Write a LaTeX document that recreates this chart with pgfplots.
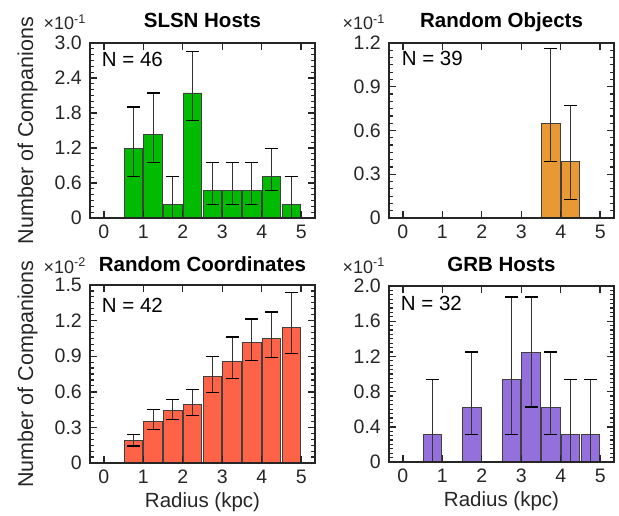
\documentclass[border=0pt]{standalone}
\usepackage{pgfplots}
\pgfplotsset{compat=1.18}
\usepackage{fontspec}
\setmainfont{Liberation Sans}
\definecolor{cgreen}{RGB}{0,187,0}
\definecolor{corange}{RGB}{232,153,52}
\definecolor{cred}{RGB}{255,99,71}
\definecolor{cpurple}{RGB}{147,112,219}
\definecolor{axgray}{RGB}{38,38,38}
\newcommand{\tkfont}{\fontsize{19.5}{21}\selectfont}
\newcommand{\lbfont}{\fontsize{20.5}{22}\selectfont}
\newcommand{\ylfont}{\fontsize{21.5}{23}\selectfont}
\newcommand{\mlfont}{\fontsize{18}{19}\selectfont}
\pgfplotsset{
  panel/.style={
    scale only axis, width=225pt, height=175pt,
    xmin=-0.35, xmax=5.35, ymin=0,
    clip=false, axis on top,
    axis line style={draw=axgray, line width=1.4pt},
    major tick style={draw=axgray, line width=1.4pt},
    minor tick style={draw=axgray, line width=1.2pt},
    major tick length=7pt, minor tick length=4pt,
    tick align=inside,
    xtick={0,...,5},
    xticklabels={0,1,2,3,4,5},
    minor y tick num=5,
    xticklabel style={font=\tkfont, text=axgray, anchor=base, yshift=-20pt, inner sep=0pt},
    yticklabel style={font=\tkfont, text=axgray, anchor=east, xshift=-8pt, inner sep=0pt},
    title style={at={(axis description cs:0.5,1)}, anchor=base, yshift=9pt, font=\bfseries\lbfont, text=black},
    every axis y label/.style={at={(axis description cs:-0.253,0.5)}, rotate=90, anchor=base, font=\ylfont, text=axgray},
    every axis x label/.style={at={(axis description cs:0.5,0)}, anchor=base, yshift=-44pt, font=\lbfont, text=axgray},
  },
  histbar/.style={ybar, bar width=0.47, bar shift=0pt, draw=black!75, line width=0.9pt, fill=#1},
  ebar/.style={draw=none, mark=none,
    error bars/y dir=both, error bars/y explicit,
    error bars/error bar style={line width=0.9pt, draw=black!80},
    error bars/error mark options={rotate=90, draw=black, line width=1.2pt, mark size=6.5pt}},
}
% frame and ticks in data coordinates:
% #1 = ymax, #2 = minor step, #3 = major step, #4 = x-tick length (data y), #5 = ymax - #4
\newcommand{\frameticks}[5]{%
  \pgfplotsinvokeforeach{0,#2,...,#1}{%
    \draw[axgray, line width=1.2pt] (axis cs:-0.35,##1) -- (axis cs:-0.2487,##1);
    \draw[axgray, line width=1.2pt] (axis cs:5.35,##1) -- (axis cs:5.2487,##1);}
  \pgfplotsinvokeforeach{0,#3,...,#1}{%
    \draw[axgray, line width=1.4pt] (axis cs:-0.35,##1) -- (axis cs:-0.1727,##1);
    \draw[axgray, line width=1.4pt] (axis cs:5.35,##1) -- (axis cs:5.1727,##1);}
  \pgfplotsinvokeforeach{0,...,5}{%
    \draw[axgray, line width=1.4pt] (axis cs:##1,0) -- (axis cs:##1,#4);
    \draw[axgray, line width=1.4pt] (axis cs:##1,#1) -- (axis cs:##1,#5);}
  \draw[axgray, line width=1.4pt, line join=miter] (axis cs:-0.35,0) -- (axis cs:5.35,0) -- (axis cs:5.35,#1) -- (axis cs:-0.35,#1) -- cycle;
}
\begin{document}
\begin{tikzpicture}
\path (0,0) rectangle (619pt,515pt);

% Top-left: SLSN Hosts
\begin{axis}[panel, at={(90pt,297pt)}, anchor=south west,
  ymax=3.0, ytick={0,0.6,1.2,1.8,2.4,3.0}, yticklabels={0,0.6,1.2,1.8,2.4,3.0},
  title={SLSN Hosts}, ylabel={Number of Companions}]
\addplot[histbar=cgreen] coordinates {(0.25,0) (0.75,1.190) (1.25,1.429) (1.75,0.238) (2.25,2.143) (2.75,0.476) (3.25,0.476) (3.75,0.476) (4.25,0.714) (4.75,0.238)};
\addplot[ebar] coordinates {
 (0.75,1.190) += (0,0.714) -= (0,0.476)
 (1.25,1.429) += (0,0.714) -= (0,0.476)
 (1.75,0.238) += (0,0.476) -= (0,0.238)
 (2.25,2.143) += (0,0.714) -= (0,0.476)
 (2.75,0.476) += (0,0.476) -= (0,0.238)
 (3.25,0.476) += (0,0.476) -= (0,0.238)
 (3.75,0.476) += (0,0.476) -= (0,0.238)
 (4.25,0.714) += (0,0.476) -= (0,0.238)
 (4.75,0.238) += (0,0.476) -= (0,0.238)};
\frameticks{3.0}{0.1}{0.6}{0.12}{2.88}
\node[anchor=base west, inner sep=0pt, font=\lbfont] at (axis description cs:0.052,0.865) {N = 46};
\node[anchor=base west, inner sep=0pt, font=\mlfont, text=axgray, yshift=13pt] at (axis description cs:-0.207,1) {×10\textsuperscript{-1}};
\end{axis}

% Top-right: Random Objects
\begin{axis}[panel, at={(389pt,297pt)}, anchor=south west,
  ymax=1.2, ytick={0,0.3,0.6,0.9,1.2}, yticklabels={0,0.3,0.6,0.9,1.2},
  title={Random Objects}]
\addplot[histbar=corange] coordinates {(0.25,0) (0.75,0) (1.25,0) (1.75,0) (2.25,0) (2.75,0) (3.25,0) (3.75,0.645) (4.25,0.387) (4.75,0)};
\addplot[ebar] coordinates {
 (3.75,0.645) += (0,0.516) -= (0,0.258)
 (4.25,0.387) += (0,0.387) -= (0,0.258)};
\frameticks{1.2}{0.05}{0.3}{0.048}{1.152}
\node[anchor=base west, inner sep=0pt, font=\lbfont] at (axis description cs:0.056,0.87) {N = 39};
\node[anchor=base west, inner sep=0pt, font=\mlfont, text=axgray, yshift=13pt] at (axis description cs:-0.207,1) {×10\textsuperscript{-1}};
\end{axis}

% Bottom-left: Random Coordinates
\begin{axis}[panel, at={(90pt,52pt)}, anchor=south west, height=178pt,
  ymax=1.5, ytick={0,0.3,0.6,0.9,1.2,1.5}, yticklabels={0,0.3,0.6,0.9,1.2,1.5},
  title={Random Coordinates}, title style={yshift=-1pt},
  ylabel={Number of Companions}, xlabel={Radius (kpc)}]
\addplot[histbar=cred] coordinates {(0.25,0) (0.75,0.186) (1.25,0.352) (1.75,0.442) (2.25,0.493) (2.75,0.726) (3.25,0.852) (3.75,1.016) (4.25,1.052) (4.75,1.143)};
\addplot[ebar] coordinates {
 (0.75,0.186) += (0,0.054) -= (0,0.043)
 (1.25,0.352) += (0,0.098) -= (0,0.073)
 (1.75,0.442) += (0,0.090) -= (0,0.073)
 (2.25,0.493) += (0,0.129) -= (0,0.096)
 (2.75,0.726) += (0,0.172) -= (0,0.135)
 (3.25,0.852) += (0,0.209) -= (0,0.143)
 (3.75,1.016) += (0,0.197) -= (0,0.152)
 (4.25,1.052) += (0,0.220) -= (0,0.160)
 (4.75,1.143) += (0,0.295) -= (0,0.220)};
\frameticks{1.5}{0.05}{0.3}{0.059}{1.441}
\node[anchor=base west, inner sep=0pt, font=\lbfont] at (axis description cs:0.052,0.843) {N = 42};
\node[anchor=base west, inner sep=0pt, font=\mlfont, text=axgray, yshift=12pt] at (axis description cs:-0.207,1) {×10\textsuperscript{-2}};
\end{axis}

% Bottom-right: GRB Hosts
\begin{axis}[panel, at={(389pt,53pt)}, anchor=south west, height=176pt,
  ymax=2.0, ytick={0,0.4,0.8,1.2,1.6,2.0}, yticklabels={0,0.4,0.8,1.2,1.6,2.0},
  minor y tick num=7,
  title={GRB Hosts}, xlabel={Radius (kpc)}]
\addplot[histbar=cpurple] coordinates {(0.25,0) (0.75,0.3125) (1.25,0) (1.75,0.625) (2.25,0) (2.75,0.9375) (3.25,1.25) (3.75,0.625) (4.25,0.3125) (4.75,0.3125)};
\addplot[ebar] coordinates {
 (0.75,0.3125) += (0,0.625) -= (0,0.3125)
 (1.75,0.625) += (0,0.625) -= (0,0.3125)
 (2.75,0.9375) += (0,0.9375) -= (0,0.625)
 (3.25,1.25) += (0,0.625) -= (0,0.625)
 (3.75,0.625) += (0,0.625) -= (0,0.3125)
 (4.25,0.3125) += (0,0.625) -= (0,0.3125)
 (4.75,0.3125) += (0,0.625) -= (0,0.3125)};
\frameticks{2.0}{0.05}{0.4}{0.0795}{1.9205}
\node[anchor=base west, inner sep=0pt, font=\lbfont] at (axis description cs:0.052,0.86) {N = 32};
\node[anchor=base west, inner sep=0pt, font=\mlfont, text=axgray, yshift=13pt] at (axis description cs:-0.207,1) {×10\textsuperscript{-1}};
\end{axis}
\end{tikzpicture}
\end{document}
